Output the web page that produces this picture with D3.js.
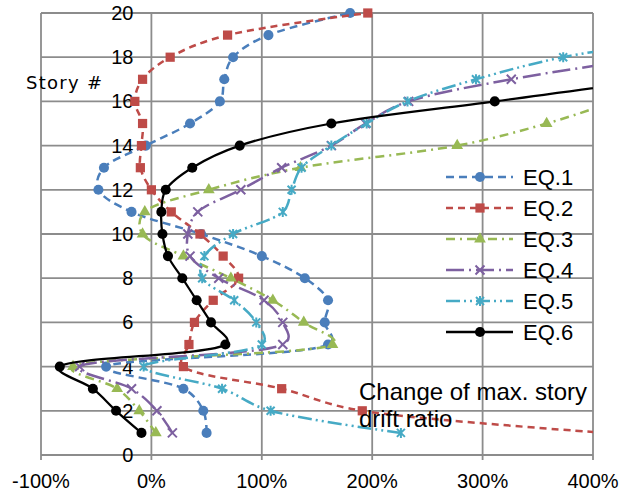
<!DOCTYPE html>
<html lang="en">
<head>
<meta charset="UTF-8" />
<title>Story drift ratio</title>
<script src="https://d3js.org/d3.v7.min.js"></script>
<style>
  body { margin: 0; background: #fff; }
</style>
</head>
<body>
<script>
// story numbers and change of max. story drift ratio (%) per earthquake
var stories = [1, 2, 3, 4, 5, 6, 7, 8, 9, 10, 11, 12, 13, 14, 15, 16, 17, 18, 19, 20];
var eq1 = [50, 47, 29, -41, 160, 157, 160, 139, 100, 45, -18, -48, -43, -5, 35, 62, 66, 74, 106, 180];
var eq2 = [412, 191, 118, 29, 34, 39, 56, 79, 65, 44, 18, 0, -10, -9, -8, -15, -8, 17, 69, 196];
var eq3 = [4, -11, -31, -71, 164, 138, 110, 72, 29, -8, -6, 52, 135, 277, 358, 420, 480, 560, 620, 680];
var eq4 = [19, 5, -18, -65, 119, 119, 102, 61, 35, 33, 42, 81, 118, 163, 194, 233, 326, 450, 560, 650];
var eq5 = [226, 108, 64, -7, 100, 95, 75, 46, 48, 74, 119, 127, 136, 163, 195, 232, 294, 373, 500, 600];
var eq6 = [-9, -32, -53, -83, 67, 54, 41, 28, 15, 10, 9, 13, 37, 80, 163, 311, 455, 560, 640, 700];
var seriesNames = ["EQ.1", "EQ.2", "EQ.3", "EQ.4", "EQ.5", "EQ.6"];
var xTicks = [-100, 0, 100, 200, 300, 400];
var yTicks = [0, 2, 4, 6, 8, 10, 12, 14, 16, 18, 20];

var width = 632, height = 496;
var plot = { left: 41, right: 593, top: 13, bottom: 455 };

var x = d3.scaleLinear().domain([-100, 400]).range([plot.left, plot.right]);
var y = d3.scaleLinear().domain([0, 20]).range([plot.bottom, plot.top]);

var styles = [
  { color: "#4a7ebb", dash: "8,5", marker: "circle" },
  { color: "#be4b48", dash: "7,5", marker: "square" },
  { color: "#98b954", dash: "9,5,2,5", marker: "triangle" },
  { color: "#7d60a0", dash: "18,5,2,5", marker: "x" },
  { color: "#46aac5", dash: "14,4,2,4,2,4", marker: "star" },
  { color: "#000000", dash: null, marker: "dot" }
];
var allValues = [eq1, eq2, eq3, eq4, eq5, eq6];

var svg = d3.select("body").append("svg")
  .attr("width", width)
  .attr("height", height)
  .style("font-family", "Liberation Sans, Arial, sans-serif");

svg.append("defs").append("clipPath").attr("id", "plotclip")
  .append("rect")
  .attr("x", plot.left).attr("y", 0)
  .attr("width", plot.right - plot.left).attr("height", height);

// grid
var grid = svg.append("g").attr("stroke", "#8c8c8c").attr("stroke-width", 1.8);
grid.selectAll(".h").data(yTicks).enter().append("line")
  .attr("x1", plot.left).attr("x2", plot.right)
  .attr("y1", d => y(d)).attr("y2", d => y(d));
grid.selectAll(".v").data(xTicks).enter().append("line")
  .attr("x1", d => x(d)).attr("x2", d => x(d))
  .attr("y1", plot.top).attr("y2", plot.bottom + 5);

// tick labels
svg.append("g").selectAll("text").data(yTicks).enter().append("text")
  .attr("x", x(0) - 18)
  .attr("y", d => y(d) + 7)
  .attr("text-anchor", "end")
  .attr("font-size", 20)
  .text(d => d);

svg.append("g").selectAll("text").data(xTicks).enter().append("text")
  .attr("x", d => x(d))
  .attr("y", plot.bottom + 33)
  .attr("text-anchor", "middle")
  .attr("font-size", 20)
  .text(d => d + "%");

svg.append("text")
  .attr("x", 26).attr("y", 89)
  .attr("font-family", "DejaVu Sans, sans-serif")
  .attr("font-size", 18)
  .attr("textLength", 76)
  .attr("lengthAdjust", "spacing")
  .text("Story #");

function markerPath(type) {
  if (type === "circle" || type === "dot") return d3.symbol(d3.symbolCircle, 80)();
  if (type === "square") return d3.symbol(d3.symbolSquare, 85)();
  if (type === "triangle") return d3.symbol(d3.symbolTriangle, 60)();
  if (type === "x") return "M-4.5,-4.5L4.5,4.5M-4.5,4.5L4.5,-4.5";
  return "M-4,-4L4,4M-4,4L4,-4M0,-5L0,5";
}

function drawMarker(g, type, color) {
  var p = g.append("path").attr("d", markerPath(type));
  if (type === "x" || type === "star") {
    p.attr("fill", "none").attr("stroke", color).attr("stroke-width", 2);
  } else {
    p.attr("fill", color);
  }
}

var line = d3.line()
  .x(d => x(d[0]))
  .y(d => y(d[1]))
  .curve(d3.curveCatmullRom.alpha(0.3));

var plotArea = svg.append("g");

allValues.forEach(function (vals, i) {
  var st = styles[i];
  var pts = vals.map((v, j) => [v, stories[j]]);
  plotArea.append("path")
    .datum(pts)
    .attr("clip-path", "url(#plotclip)")
    .attr("fill", "none")
    .attr("stroke", st.color)
    .attr("stroke-width", i === 5 ? 2.25 : 2.5)
    .attr("stroke-dasharray", st.dash)
    .attr("d", line);
  pts.filter(p => p[0] <= 400 && p[0] >= -100).forEach(function (p) {
    var g = plotArea.append("g").attr("transform", "translate(" + x(p[0]) + "," + y(p[1]) + ")");
    drawMarker(g, st.marker, st.color);
  });
});

// legend
var legend = svg.append("g");
seriesNames.forEach(function (name, i) {
  var st = styles[i];
  var ly = 177 + i * 31;
  legend.append("line")
    .attr("x1", 446).attr("x2", 513)
    .attr("y1", ly).attr("y2", ly)
    .attr("stroke", st.color)
    .attr("stroke-width", 2.5)
    .attr("stroke-dasharray", st.dash);
  var g = legend.append("g").attr("transform", "translate(480," + ly + ")");
  drawMarker(g, st.marker, st.color);
  legend.append("text")
    .attr("x", 523).attr("y", ly + 8)
    .attr("font-size", 22)
    .text(name);
});

svg.append("text")
  .attr("x", 359).attr("y", 400)
  .attr("font-size", 24)
  .text("Change of max. story");
svg.append("text")
  .attr("x", 359).attr("y", 427)
  .attr("font-size", 24)
  .text("drift ratio");
</script>
</body>
</html>
